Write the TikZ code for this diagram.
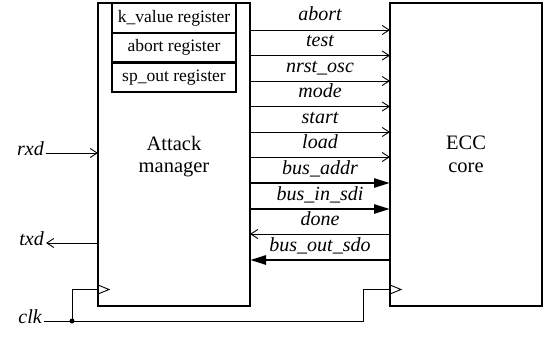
\documentclass[tikz,border=0pt]{standalone}
\usepackage{fontspec}
\setmainfont{Liberation Serif}
\usetikzlibrary{arrows.meta,calc}
\begin{document}
\begin{tikzpicture}[x=1pt,y=-1pt,
  block/.style={draw, line width=2.4pt, inner sep=0pt, outer sep=0pt, minimum width=152pt, minimum height=303pt, anchor=north west},
  title/.style={anchor=base, inner sep=0pt, font=\fontsize{20.5}{22}\selectfont},
  regbox/.style={draw, line width=2.2pt, minimum width=124pt, minimum height=29.7pt, inner sep=0pt, outer sep=0pt, anchor=north west, font=\fontsize{17.5}{19}\selectfont},
  sig/.style={line width=0.9pt, -{Straight Barb[length=7pt,width=9pt,line width=0.9pt]}},
  bus/.style={line width=2.6pt, -{Triangle[length=16pt,width=9pt]}},
  wire/.style={line width=0.9pt},
  lbl/.style={anchor=base, yshift=9pt, inner sep=0pt, font=\fontsize{20}{22}\selectfont\itshape},
  pin/.style={inner sep=2pt, font=\fontsize{20}{22}\selectfont\itshape},
]
\useasboundingbox (0,0) rectangle (545,337);

% the two blocks
\node[block] (am) at (98,3) {};
\node[block] (ecc) at (390,3) {};
\node[title] (amt1) at (am.north |- 0,150) {Attack};
\node[title] (amt2) at (am.north |- 0,172) {manager};
\node[title] (ecct1) at (ecc.north |- 0,149.5) {ECC};
\node[title] (ecct2) at (ecc.north |- 0,172) {core};

% registers inside the attack manager
\node[regbox] (r1) at (112,3) {k\_value register};
\node[regbox] (r2) at (r1.south west) {abort register};
\node[regbox] (r3) at (r2.south west) {sp\_out register};

% rows of the signal lines
\foreach \n/\y in {1/30,2/55.5,3/81,4/106.5,5/132,6/157,7/183,8/209,9/234,10/260}
  \coordinate (y\n) at (0,\y);

\draw[sig] (am.east |- y1) -- node[lbl]{abort} (ecc.west |- y1);
\draw[sig] (am.east |- y2) -- node[lbl]{test} (ecc.west |- y2);
\draw[sig] (am.east |- y3) -- node[lbl]{nrst\_osc} (ecc.west |- y3);
\draw[sig] (am.east |- y4) -- node[lbl]{mode} (ecc.west |- y4);
\draw[sig] (am.east |- y5) -- node[lbl]{start} (ecc.west |- y5);
\draw[sig] (am.east |- y6) -- node[lbl]{load} (ecc.west |- y6);
\draw[bus] (am.east |- y7) -- node[lbl]{bus\_addr} (ecc.west |- y7);
\draw[bus] (am.east |- y8) -- node[lbl]{bus\_in\_sdi} (ecc.west |- y8);
\draw[sig] (ecc.west |- y9) -- node[lbl]{done} (am.east |- y9);
\draw[bus] (ecc.west |- y10) -- node[lbl]{bus\_out\_sdo} (am.east |- y10);

% external pins
\node[pin, anchor=mid east] (rxd) at (46,153) {rxd};
\node[pin, anchor=mid east] (txd) at (46,243) {txd};
\node[pin, anchor=mid east] (clk) at (44,321) {clk};
\draw[sig] (rxd.mid east) -- (am.west |- rxd.mid east);
\draw[sig] (am.west |- txd.mid east) -- (txd.mid east);

% clock distribution
\node[circle, fill, inner sep=0pt, minimum size=5pt] (dot) at (72,321) {};
\coordinate (ck) at (0,289.5);
\coordinate (jog) at (363,0);
\draw[wire] (clk.mid east) -- (dot.center);
\draw[wire] (dot.center) |- (am.west |- ck);
\draw[wire] (dot.center) -- (jog |- dot.center) |- (ecc.west |- ck);

% clock input marks
\draw[wire] ($(am.west |- ck)+(0,-4.5)$) -- ++(11,4.5) -- ++(-11,4.5);
\draw[wire] ($(ecc.west |- ck)+(0,-4.5)$) -- ++(11,4.5) -- ++(-11,4.5);
\end{tikzpicture}
\end{document}
